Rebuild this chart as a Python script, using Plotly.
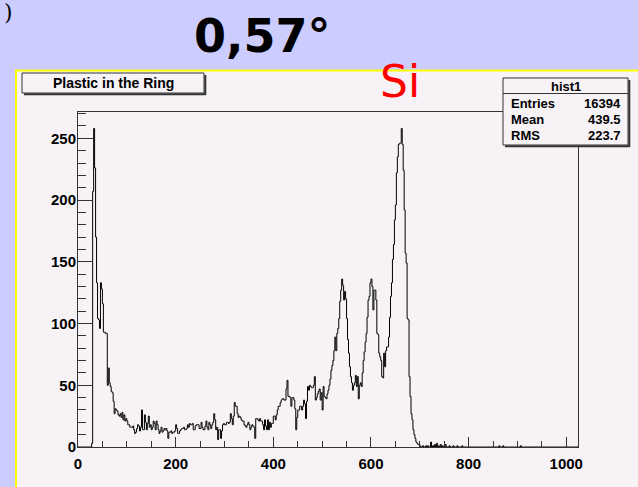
import plotly.graph_objects as go

# ---------------- data ----------------
bin_width = 2
n_bins = 512
counts_head = [
    0, 0, 0, 0, 0, 0, 0, 0, 0, 0,
    0, 0, 0, 0, 3, 207, 258, 226, 170, 133,
    104, 103, 96, 133, 128, 116, 93, 93, 92, 92,
    50, 64, 52, 49, 45, 44, 37, 27, 31, 30,
    29, 26, 25, 27, 24, 28, 22, 26, 21, 23,
    21, 18, 18, 16, 16, 16, 17, 14, 11, 12,
    15, 18, 17, 13, 16, 30, 14, 14, 26, 20,
    14, 19, 25, 16, 18, 14, 16, 21, 19, 14,
    21, 18, 14, 11, 13, 16, 12, 13, 15, 14,
    15, 13, 7, 12, 12, 13, 11, 12, 12, 13,
    18, 15, 11, 11, 13, 14, 15, 15, 16, 14,
    14, 15, 18, 16, 19, 18, 18, 19, 14, 14,
    17, 18, 18, 18, 15, 15, 20, 16, 14, 14,
    17, 21, 16, 14, 20, 18, 15, 18, 20, 27,
    22, 14, 16, 6, 14, 14, 7, 13, 18, 19,
    18, 18, 20, 20, 19, 20, 27, 23, 18, 25,
    36, 33, 33, 27, 24, 25, 24, 22, 21, 21,
    18, 17, 16, 18, 20, 18, 14, 16, 18, 17,
    16, 7, 23, 23, 22, 21, 23, 21, 21, 18,
    14, 22, 17, 14, 22, 14, 20, 16, 19, 19,
    25, 25, 22, 26, 30, 33, 33, 36, 38, 39,
    39, 38, 38, 47, 54, 41, 41, 40, 33, 40,
    40, 38, 31, 14, 24, 30, 30, 33, 33, 30,
    33, 38, 35, 23, 37, 49, 46, 50, 49, 48,
    48, 50, 57, 38, 40, 43, 45, 47, 38, 44,
    30, 49, 41, 40, 39, 43, 46, 50, 55, 62,
    66, 70, 78, 89, 78, 92, 96, 104, 118, 127,
    136, 131, 119, 126, 120, 104, 87, 76, 65, 57,
    52, 46, 50, 52, 58, 49, 57, 39, 50, 52,
    49, 60, 70, 77, 85, 92, 105, 119, 122, 133,
    136, 130, 111, 127, 127, 119, 92, 91, 76, 73,
    70, 57, 56, 76, 65, 78, 81, 81, 89, 105,
    122, 133, 152, 164, 184, 196, 222, 235, 245, 246,
    246, 258, 245, 224, 192, 157, 149, 104, 103, 57,
    41, 27, 22, 14, 10, 7, 4, 3, 2, 2,
    1, 0, 0, 1, 0, 0, 1, 0, 1, 0,
]
# sparse tail (bin index, count) beyond x = 720
tail_bins = [361, 363, 365, 367, 369, 371, 373, 376, 380, 384, 388, 393, 431, 435, 453]
tail_counts = [4, 1, 2, 3, 1, 2, 1, 2, 1, 1, 1, 1, 1, 1, 1]

stats_name = "hist1"
stats_labels = ["Entries", "Mean", "RMS"]
stats_values = ["16394", "439.5", "223.7"]
hist_title = "Plastic in the Ring"
x_range = [0, 1024]
y_range = [0, 271.3]

# ---------------- build histogram outline ----------------
counts = counts_head + [0] * (n_bins - len(counts_head))
for b, c in zip(tail_bins, tail_counts):
    counts[b] = c
edges = [i * bin_width for i in range(n_bins + 1)]
ys = counts + [counts[-1]]

W, H = 638, 487
ML, MR, MT, MB = 78, 60, 112, 40
PW, PH = W - ML - MR, H - MT - MB


def px(x):
    return (x - ML) / PW


def py(y):
    return (H - MB - y) / PH


canvas = "#F6F2F6"
lav = "#CCCCFF"
dark = "#333333"

fig = go.Figure()
fig.add_trace(go.Scatter(x=edges, y=ys, mode="lines", line_shape="hv",
                         line=dict(color="black", width=1), hoverinfo="skip",
                         showlegend=False))

shapes = []
# canvas area
shapes.append(dict(type="rect", xref="paper", yref="paper", x0=px(16), x1=px(645),
                   y0=py(70), y1=py(495), fillcolor=canvas, line=dict(width=0), layer="below"))
shapes.append(dict(type="line", xref="paper", yref="paper", x0=px(15), x1=px(645),
                   y0=py(70.5), y1=py(70.5), line=dict(color="#FFFF00", width=2), layer="below"))
shapes.append(dict(type="line", xref="paper", yref="paper", x0=px(16), x1=px(16),
                   y0=py(70), y1=py(495), line=dict(color="#FFFF00", width=2), layer="below"))
# title box
shapes.append(dict(type="rect", xref="paper", yref="paper", x0=px(22), x1=px(204),
                   y0=py(73), y1=py(93), fillcolor=canvas, line=dict(color=dark, width=1)))
shapes.append(dict(type="line", xref="paper", yref="paper", x0=px(24), x1=px(205.5),
                   y0=py(94.3), y1=py(94.3), line=dict(color=dark, width=2)))
shapes.append(dict(type="line", xref="paper", yref="paper", x0=px(205.3), x1=px(205.3),
                   y0=py(75), y1=py(95), line=dict(color=dark, width=2)))
# stats box
shapes.append(dict(type="rect", xref="paper", yref="paper", x0=px(503), x1=px(628),
                   y0=py(78), y1=py(145), fillcolor=canvas, line=dict(color=dark, width=1)))
shapes.append(dict(type="line", xref="paper", yref="paper", x0=px(503), x1=px(628),
                   y0=py(93.5), y1=py(93.5), line=dict(color=dark, width=1)))
shapes.append(dict(type="line", xref="paper", yref="paper", x0=px(505), x1=px(629.5),
                   y0=py(146.3), y1=py(146.3), line=dict(color=dark, width=2)))
shapes.append(dict(type="line", xref="paper", yref="paper", x0=px(629.3), x1=px(629.3),
                   y0=py(80), y1=py(147), line=dict(color=dark, width=2)))

ann = []
bold = dict(family="Liberation Sans, Arial, sans-serif", size=14, color="black", weight="bold")
ann.append(dict(x=px(113), y=py(83), xref="paper", yref="paper", text=hist_title,
                showarrow=False, font=bold, xanchor="center", yanchor="middle"))
ann.append(dict(x=px(566), y=py(86), xref="paper", yref="paper", text=stats_name,
                showarrow=False, font=dict(bold, size=13), xanchor="center", yanchor="middle"))
for i, (lab, val) in enumerate(zip(stats_labels, stats_values)):
    yy = 103 + i * 16.4
    ann.append(dict(x=px(509), y=py(yy), xref="paper", yref="paper", text=lab,
                    showarrow=False, font=dict(bold, size=13), xanchor="left", yanchor="middle"))
    ann.append(dict(x=px(623), y=py(yy), xref="paper", yref="paper", text=val,
                    showarrow=False, font=dict(bold, size=13), xanchor="right", yanchor="middle"))
# slide texts
ann.append(dict(x=px(262), y=py(36), xref="paper", yref="paper", text="0,57°",
                showarrow=False, font=dict(family="DejaVu Sans", size=46, color="black", weight="bold"),
                xanchor="center", yanchor="middle"))
ann.append(dict(x=px(400), y=py(82), xref="paper", yref="paper", text="Si",
                showarrow=False, font=dict(family="DejaVu Sans", size=44, color="#FF0000"),
                xanchor="center", yanchor="middle"))
ann.append(dict(x=px(2), y=py(13), xref="paper", yref="paper", text=")",
                showarrow=False, font=dict(family="DejaVu Serif", size=22, color="black"),
                xanchor="left", yanchor="middle"))

tickfont = dict(family="Liberation Sans, Arial, sans-serif", size=15, color="black", weight="bold")
fig.update_layout(
    width=W, height=H,
    margin=dict(l=ML, r=MR, t=MT, b=MB, pad=0),
    paper_bgcolor=lav, plot_bgcolor=canvas,
    shapes=shapes, annotations=ann, showlegend=False,
    xaxis=dict(range=x_range, showgrid=False, zeroline=False, showline=True, linecolor=dark,
               linewidth=1, mirror=True, ticks="inside", ticklen=10, tickcolor=dark,
               tickvals=[0, 200, 400, 600, 800, 1000], tickfont=tickfont, ticklabelstandoff=3,
               minor=dict(tickvals=[50, 100, 150, 250, 300, 350, 450, 500, 550, 650, 700, 750,
                                    850, 900, 950], ticks="inside", ticklen=6, tickcolor=dark)),
    yaxis=dict(range=y_range, showgrid=False, zeroline=False, showline=True, linecolor=dark,
               linewidth=1, mirror=True, ticks="inside", ticklen=15, tickcolor=dark,
               tickvals=[0, 50, 100, 150, 200, 250], tickfont=tickfont, ticklabelstandoff=-2,
               minor=dict(dtick=10, ticks="inside", ticklen=8, tickcolor=dark)),
)
fig.write_html(
    "out.html",
    config={"displayModeBar": False},
    post_script="document.body.style.margin='0';document.body.style.background='#CCCCFF';"
                "document.body.style.overflow='hidden';",
)
